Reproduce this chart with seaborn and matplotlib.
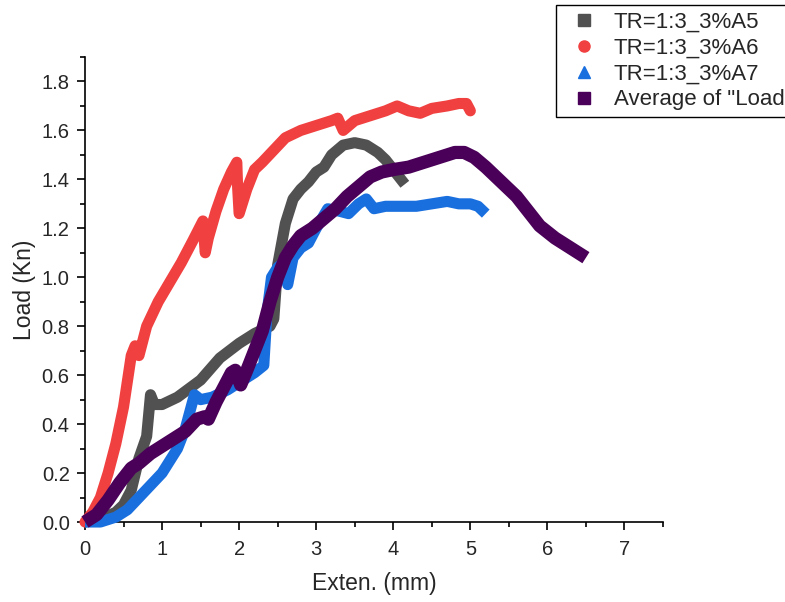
import matplotlib
matplotlib.use("Agg")
import matplotlib.pyplot as plt
from matplotlib.lines import Line2D
from matplotlib.ticker import MultipleLocator
import seaborn as sns
import pandas as pd

# ---- data ----
a5_x = [0, 0.2, 0.4, 0.5, 0.6, 0.7, 0.8, 0.85, 0.9, 1.0, 1.2, 1.5, 1.75, 2.0, 2.2, 2.4, 2.45,
        2.5, 2.6, 2.7, 2.8, 2.9, 3.0, 3.1, 3.2, 3.35, 3.5, 3.65, 3.8, 3.9, 4.0, 4.1, 4.15]
a5_y = [0, 0.01, 0.04, 0.07, 0.13, 0.26, 0.35, 0.52, 0.48, 0.48, 0.51, 0.58, 0.67, 0.73, 0.77, 0.8, 0.83,
        1.05, 1.22, 1.32, 1.36, 1.39, 1.43, 1.45, 1.5, 1.54, 1.55, 1.54, 1.51, 1.48, 1.44, 1.40, 1.38]

a6_x = [0, 0.1, 0.2, 0.3, 0.4, 0.5, 0.6, 0.65, 0.7, 0.8, 0.95, 1.1, 1.25, 1.4, 1.53, 1.56, 1.6, 1.7,
        1.8, 1.9, 1.97, 1.98, 2.0, 2.1, 2.2, 2.3, 2.45, 2.6, 2.8, 3.0, 3.2, 3.28, 3.35, 3.5, 3.7, 3.9,
        4.05, 4.2, 4.35, 4.5, 4.7, 4.85, 4.95, 5.0]
a6_y = [0, 0.04, 0.1, 0.2, 0.32, 0.47, 0.68, 0.72, 0.68, 0.8, 0.9, 0.98, 1.06, 1.15, 1.23, 1.1, 1.16, 1.27,
        1.36, 1.43, 1.47, 1.37, 1.26, 1.36, 1.44, 1.47, 1.52, 1.57, 1.6, 1.62, 1.64, 1.65, 1.6, 1.64, 1.66, 1.68,
        1.70, 1.68, 1.67, 1.69, 1.70, 1.71, 1.71, 1.68]

a7_x = [0, 0.2, 0.4, 0.55, 0.7, 0.85, 1.0, 1.1, 1.2, 1.3, 1.42, 1.5, 1.65, 1.85, 2.0, 2.2, 2.32, 2.36,
        2.42, 2.5, 2.58, 2.63, 2.7, 2.8, 2.9, 3.0, 3.15, 3.3, 3.42, 3.55, 3.65, 3.75, 3.9, 4.1, 4.3, 4.5, 4.7,
        4.85, 5.0, 5.1, 5.2]
a7_y = [0, 0.0, 0.02, 0.05, 0.1, 0.15, 0.2, 0.25, 0.3, 0.38, 0.52, 0.5, 0.51, 0.54, 0.57, 0.61, 0.64, 0.85,
        1.0, 1.04, 1.06, 0.97, 1.08, 1.12, 1.14, 1.2, 1.28, 1.27, 1.26, 1.3, 1.32, 1.28, 1.29, 1.29, 1.29, 1.3, 1.31,
        1.30, 1.30, 1.29, 1.26]

avg_x = [0, 0.15, 0.3, 0.45, 0.6, 0.7, 0.85, 1.0, 1.15, 1.3, 1.45, 1.55, 1.6, 1.7, 1.8, 1.9, 1.95, 2.02,
         2.1, 2.2, 2.3, 2.4, 2.5, 2.6, 2.7, 2.8, 2.95, 3.1, 3.25, 3.4, 3.55, 3.7, 3.85, 4.0, 4.2, 4.4,
         4.6, 4.8, 4.92, 5.05, 5.2, 5.4, 5.6, 5.75, 5.9, 6.1, 6.3, 6.5]
avg_y = [0, 0.03, 0.09, 0.16, 0.22, 0.24, 0.28, 0.31, 0.34, 0.37, 0.42, 0.43, 0.42, 0.49, 0.55, 0.61, 0.62, 0.56,
         0.62, 0.7, 0.78, 0.9, 1.0, 1.08, 1.13, 1.17, 1.2, 1.24, 1.28, 1.33, 1.37, 1.41, 1.43, 1.44, 1.45, 1.47,
         1.49, 1.51, 1.51, 1.49, 1.45, 1.39, 1.33, 1.27, 1.21, 1.16, 1.12, 1.08]

series_names = ["TR=1:3_3%A5", "TR=1:3_3%A6", "TR=1:3_3%A7", 'Average of "Load']
series_x = [a5_x, a6_x, a7_x, avg_x]
series_y = [a5_y, a6_y, a7_y, avg_y]
colors = ["#515151", "#F14040", "#1A6FDF", "#4A0058"]
markers = ["s", "o", "^", "s"]
widths = [8.0, 8.0, 8.0, 9.5]
caps = ["butt", "round", "butt", "butt"]

x_label = "Exten. (mm)"
y_label = "Load (Kn)"

# ---- plotting ----
sns.set_style("ticks")
plt.rcParams["font.family"] = ["Liberation Sans", "DejaVu Sans"]

fig = plt.figure(figsize=(7.85, 6.02), dpi=100)
ax = fig.add_axes([85 / 785, (602 - 522) / 602, (663 - 85) / 785, (522 - 57) / 602])

for name, xs, ys, c, lw, cap in zip(series_names, series_x, series_y, colors, widths, caps):
    df = pd.DataFrame({"x": xs, "y": ys})
    sns.lineplot(data=df, x="x", y="y", sort=False, estimator=None, color=c,
                 linewidth=lw, ax=ax, solid_capstyle=cap, solid_joinstyle="round",
                 clip_on=False, zorder=3)

ax.set_xlim(0, 7.5)
ax.set_ylim(0, 1.9)
ax.xaxis.set_major_locator(MultipleLocator(1))
ax.xaxis.set_minor_locator(MultipleLocator(0.5))
ax.yaxis.set_minor_locator(MultipleLocator(0.1))
ax.set_yticks([0, 0.2, 0.4, 0.6, 0.8, 1.0, 1.2, 1.4, 1.6, 1.8])
ax.set_yticklabels(["0.0", "0.2", "0.4", "0.6", "0.8", "1.0", "1.2", "1.4", "1.6", "1.8"])
ax.tick_params(axis="x", which="major", pad=7)
ax.tick_params(axis="y", which="major", pad=5)
ax.tick_params(which="major", direction="out", length=6, width=1.2, labelsize=14.5, color="black")
ax.tick_params(which="minor", direction="out", length=3.5, width=1.2, color="black")
for s in ["top", "right"]:
    ax.spines[s].set_visible(False)
for s in ["left", "bottom"]:
    ax.spines[s].set_linewidth(1.2)
    ax.spines[s].set_color("black")

ax.set_xlabel(x_label, fontsize=16.5, labelpad=9)
ax.set_ylabel(y_label, fontsize=16.5, labelpad=4)

handles = [Line2D([], [], linestyle="none", marker=m, color=c, markersize=8)
           for m, c in zip(markers, colors)]
leg = fig.legend(handles, series_names, loc="upper left",
                 bbox_to_anchor=(556 / 785, 1 - 5 / 602), bbox_transform=fig.transFigure,
                 borderaxespad=0, fancybox=False, framealpha=1, edgecolor="black",
                 fontsize=16, handlelength=1.95, handletextpad=0.35, labelspacing=0.22,
                 borderpad=0.3)
leg.get_frame().set_linewidth(1.0)

fig.savefig("out.png", dpi=100)
